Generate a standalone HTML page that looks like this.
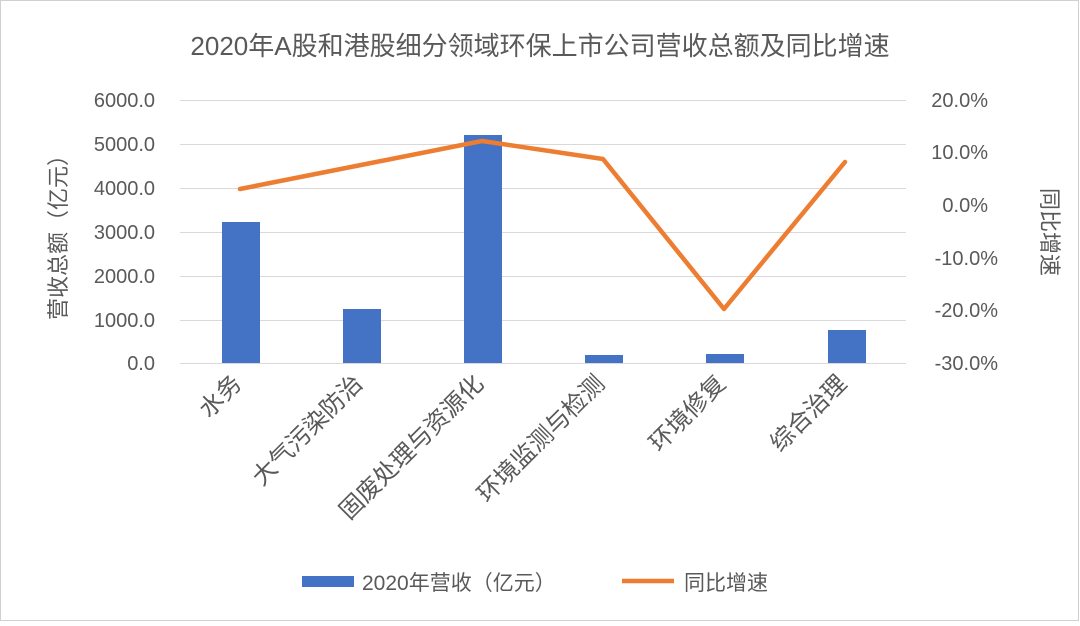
<!DOCTYPE html>
<html><head><meta charset="utf-8"><style>
body{margin:0;background:#fff;}
svg{display:block;font-family:"Liberation Sans","Noto Sans CJK SC",sans-serif;}
</style></head><body>
<svg width="1080" height="626" viewBox="0 0 1080 626">
<rect x="0.5" y="0.5" width="1078" height="620" fill="#fff" stroke="#d0d0d0"/>
<text x="540" y="55" text-anchor="middle" font-size="26" fill="#595959">2020年A股和港股细分领域环保上市公司营收总额及同比增速</text>
<g stroke="#d9d9d9" stroke-width="1">
<line x1="180" x2="906" y1="100.5" y2="100.5"/>
<line x1="180" x2="906" y1="144.5" y2="144.5"/>
<line x1="180" x2="906" y1="188.5" y2="188.5"/>
<line x1="180" x2="906" y1="232.5" y2="232.5"/>
<line x1="180" x2="906" y1="276.5" y2="276.5"/>
<line x1="180" x2="906" y1="320.5" y2="320.5"/>
<line x1="180" x2="906" y1="363.5" y2="363.5"/>
</g>
<g font-size="20" fill="#595959" text-anchor="end">
<text x="155" y="107">6000.0</text>
<text x="155" y="151">5000.0</text>
<text x="155" y="195">4000.0</text>
<text x="155" y="239">3000.0</text>
<text x="155" y="283">2000.0</text>
<text x="155" y="327">1000.0</text>
<text x="155" y="370">0.0</text>
</g>
<g font-size="20" fill="#595959" text-anchor="end">
<text x="988" y="107">20.0%</text>
<text x="988" y="159">10.0%</text>
<text x="988" y="212">0.0%</text>
<text x="998" y="265">-10.0%</text>
<text x="998" y="317">-20.0%</text>
<text x="998" y="370">-30.0%</text>
</g>
<text transform="translate(66,232) rotate(-90)" text-anchor="middle" font-size="22" fill="#595959">营收总额（亿元）</text>
<text transform="translate(1042,232) rotate(90)" text-anchor="middle" font-size="22" fill="#595959">同比增速</text>
<g fill="#4472c4">
<rect x="222" y="222" width="38" height="141"/>
<rect x="343" y="309" width="38" height="54"/>
<rect x="464" y="135" width="38" height="228"/>
<rect x="585" y="355" width="38" height="8"/>
<rect x="706" y="354" width="38" height="9"/>
<rect x="828" y="330" width="38" height="33"/>
</g>
<polyline points="240,189 361,165 482,141 603,159 724,309 845,162" fill="none" stroke="#ed7d31" stroke-width="4.5" stroke-linejoin="round" stroke-linecap="round"/>
<g font-size="24" fill="#595959" text-anchor="end">
<text transform="translate(243,385) rotate(-45)">水务</text>
<text transform="translate(364,385) rotate(-45)">大气污染防治</text>
<text transform="translate(485,385) rotate(-45)">固废处理与资源化</text>
<text transform="translate(606,385) rotate(-45)">环境监测与检测</text>
<text transform="translate(727,385) rotate(-45)">环境修复</text>
<text transform="translate(848,385) rotate(-45)">综合治理</text>
</g>
<rect x="302" y="576" width="52" height="11" fill="#4472c4"/>
<text x="362" y="590" font-size="21" fill="#595959">2020年营收（亿元）</text>
<line x1="622" x2="674" y1="581" y2="581" stroke="#ed7d31" stroke-width="4.5"/>
<text x="684" y="590" font-size="21" fill="#595959">同比增速</text>
</svg>
</body></html>
